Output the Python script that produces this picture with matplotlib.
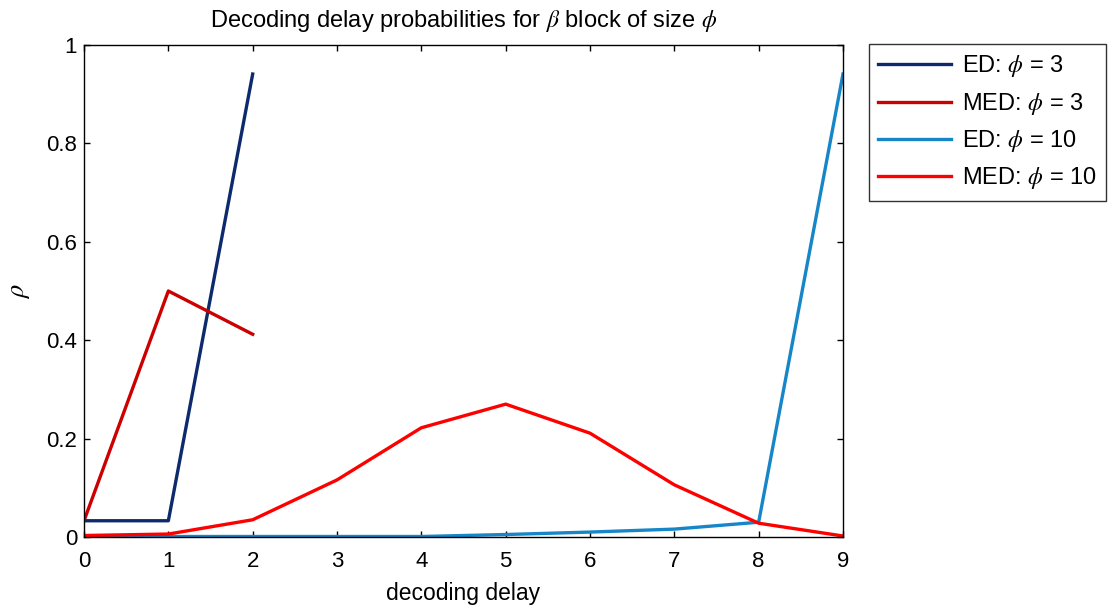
import numpy as np
import matplotlib.pyplot as plt

plt.rcParams['font.family'] = ['Liberation Sans', 'DejaVu Sans']
plt.rcParams['mathtext.fontset'] = 'stix'

delay_3 = [0, 1, 2]
ed_3 = [0.033, 0.033, 0.941]
med_3 = [0.033, 0.500, 0.412]

delay_10 = [0, 1, 2, 3, 4, 5, 6, 7, 8, 9]
ed_10 = [0.001, 0.001, 0.001, 0.001, 0.001, 0.005, 0.010, 0.016, 0.030, 0.941]
med_10 = [0.003, 0.006, 0.035, 0.116, 0.222, 0.270, 0.211, 0.106, 0.028, 0.002]

labels = [r'ED: $\phi$ = 3', r'MED: $\phi$ = 3', r'ED: $\phi$ = 10', r'MED: $\phi$ = 10']
colors = ['#0c2a6c', '#cc0000', '#1786c8', '#ff0000']

fig = plt.figure(figsize=(11.13, 6.08), dpi=100)
ax = fig.add_axes([0.0755, 0.1168, 0.6819, 0.8092])

ax.plot(delay_3, ed_3, color=colors[0], linewidth=2.4, label=labels[0])
ax.plot(delay_3, med_3, color=colors[1], linewidth=2.4, label=labels[1])
ax.plot(delay_10, ed_10, color=colors[2], linewidth=2.4, label=labels[2])
ax.plot(delay_10, med_10, color=colors[3], linewidth=2.4, label=labels[3])

ax.set_xlim(0, 9)
ax.set_ylim(0, 1)
ax.set_xticks(np.arange(0, 10, 1))
ax.set_yticks([0, 0.2, 0.4, 0.6, 0.8, 1])
ax.set_yticklabels(['0', '0.2', '0.4', '0.6', '0.8', '1'])
ax.tick_params(direction='in', top=True, right=True, labelsize=16, length=4, width=1)
ax.tick_params(axis='x', pad=10)
ax.tick_params(axis='y', pad=5)
for s in ax.spines.values():
    s.set_linewidth(1)

ax.set_xlabel('decoding delay', fontsize=16.5, labelpad=7)
ax.set_ylabel(r'$\rho$', fontsize=19, labelpad=10)
ax.set_title(r'Decoding delay probabilities for $\beta$ block of size $\phi$', fontsize=17, pad=13)

leg = ax.legend(loc='upper left', bbox_to_anchor=(1.034, 1.002), fontsize=17,
                frameon=True, fancybox=False, borderpad=0.4, handlelength=3.1,
                handletextpad=0.45, labelspacing=0.48, borderaxespad=0)
leg.get_frame().set_edgecolor('black')
leg.get_frame().set_linewidth(1)

fig.savefig('out.png', dpi=100)
